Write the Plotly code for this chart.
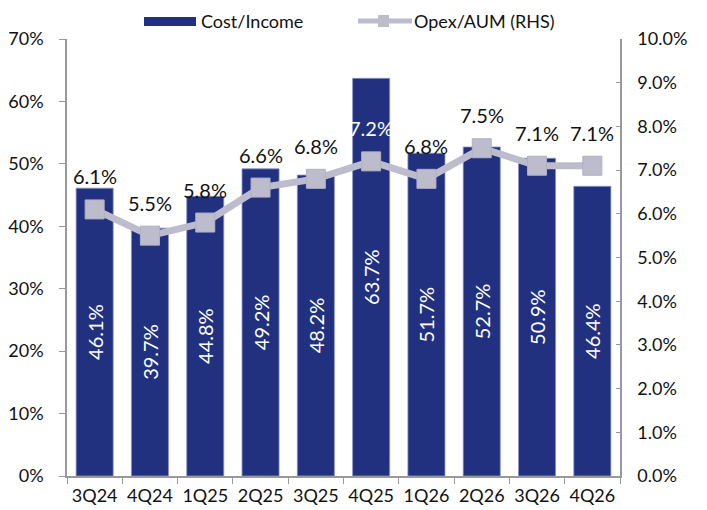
import plotly.graph_objects as go

quarters = ["3Q24", "4Q24", "1Q25", "2Q25", "3Q25", "4Q25", "1Q26", "2Q26", "3Q26", "4Q26"]
cost_income = [46.1, 39.7, 44.8, 49.2, 48.2, 63.7, 51.7, 52.7, 50.9, 46.4]
opex_aum = [6.1, 5.5, 5.8, 6.6, 6.8, 7.2, 6.8, 7.5, 7.1, 7.1]
left_ticks = [0, 10, 20, 30, 40, 50, 60, 70]
right_ticks = [0, 1, 2, 3, 4, 5, 6, 7, 8, 9, 10]

BAR = "#213180"
LINE = "#bcbccc"
FONT = "Lato, 'Open Sans', sans-serif"
AX = "#999999"
FS = 18
DL = 20

fig = go.Figure()
fig.add_trace(go.Bar(
    x=quarters, y=cost_income, name="Cost/Income",
    marker=dict(color=BAR, line=dict(color="#8a93c6", width=0.8)),
    width=0.67,
    text=[f"{v:.1f}%" for v in cost_income],
    textposition="inside", insidetextanchor="middle", textangle=-90,
    textfont=dict(color="white", size=DL, family=FONT),
    showlegend=False, yaxis="y",
))
fig.add_trace(go.Scatter(
    x=quarters, y=opex_aum, name="Opex/AUM (RHS)", mode="lines+markers",
    line=dict(color=LINE, width=7),
    marker=dict(symbol="square", size=19, color=LINE, line=dict(color="#b0b0c2", width=1)),
    showlegend=False, yaxis="y2", cliponaxis=False,
))

for q, v in zip(quarters, opex_aum):
    fig.add_annotation(x=q, y=v, xref="x", yref="y2", text=f"{v:.1f}%", showarrow=False,
                       yshift=33, yanchor="middle",
                       font=dict(size=DL, family=FONT, color="white" if q == "4Q25" else "#111111"))

fig.update_layout(
    width=707, height=510,
    margin=dict(l=67, r=87, t=39, b=34),
    paper_bgcolor="white", plot_bgcolor="white",
    font=dict(family=FONT, size=FS, color="#111111"),
    xaxis=dict(type="category", range=[-0.5, len(quarters) - 0.5], showline=True,
               linecolor=AX, linewidth=1.5,
               ticks="outside", ticklen=6, tickcolor=AX, tickson="boundaries",
               tickfont=dict(size=FS), tickangle=0, showgrid=False, automargin=False,
               ticklabelstandoff=3),
    yaxis=dict(range=[0, 70], tickvals=left_ticks, ticktext=[f"{t}%" for t in left_ticks],
               showline=True, linecolor=AX, linewidth=1.5, ticks="outside", ticklen=6,
               tickcolor=AX, showgrid=False, zeroline=False, tickfont=dict(size=FS),
               automargin=False, ticklabelstandoff=12),
    yaxis2=dict(range=[0, 10], tickvals=right_ticks, ticktext=[f"{t:.1f}%" for t in right_ticks],
                overlaying="y", side="right", showline=True, linecolor=AX, linewidth=1.5,
                ticks="inside", ticklen=4, tickcolor=AX, showgrid=False, zeroline=False,
                tickfont=dict(size=FS), automargin=False, ticklabelstandoff=12),
)

# manual legend
fig.add_shape(type="rect", xref="paper", yref="paper", x0=(144-67)/553, x1=(196-67)/553,
              y0=(476-26)/437, y1=(476-17)/437, fillcolor=BAR, line=dict(width=0))
fig.add_annotation(xref="paper", yref="paper", x=(199-67)/553, y=(476-21)/437, text="Cost/Income",
                   showarrow=False, xanchor="left", yanchor="middle", font=dict(size=FS))
fig.add_shape(type="line", xref="paper", yref="paper", x0=(358-67)/553, x1=(412-67)/553,
              y0=(476-21)/437, y1=(476-21)/437, line=dict(color=LINE, width=5))
fig.add_shape(type="rect", xref="paper", yref="paper", x0=(378-67)/553, x1=(389-67)/553,
              y0=(476-27)/437, y1=(476-15)/437, fillcolor=LINE, line=dict(width=0))
fig.add_annotation(xref="paper", yref="paper", x=(412-67)/553, y=(476-21)/437, text="Opex/AUM (RHS)",
                   showarrow=False, xanchor="left", yanchor="middle", font=dict(size=FS))

fig.write_html("out.html", config={"displayModeBar": False},
               post_script="document.body.style.margin='0';document.body.style.padding='0';")
